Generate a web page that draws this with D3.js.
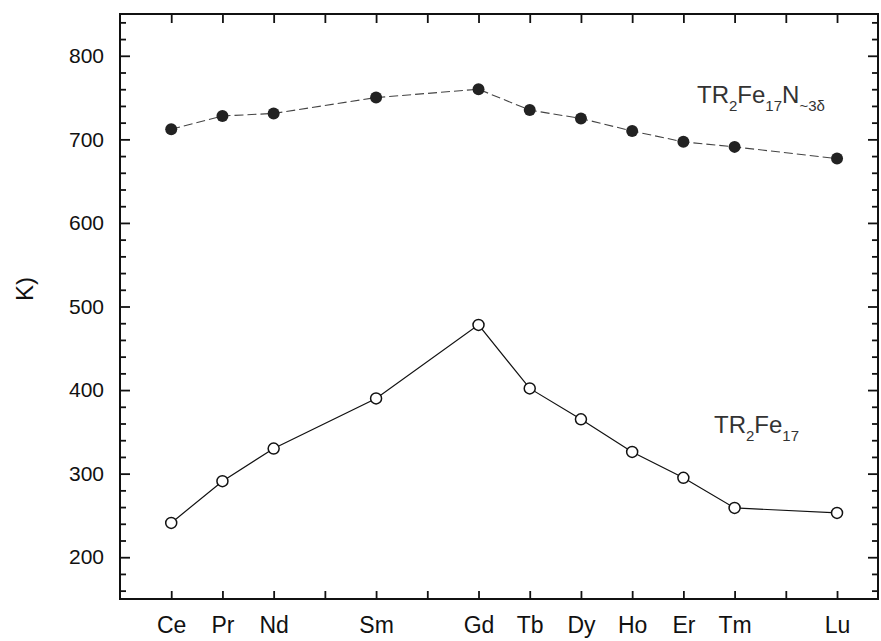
<!DOCTYPE html>
<html>
<head>
<meta charset="utf-8">
<script src="https://cdn.jsdelivr.net/npm/d3@7"></script>
<style>
  body { margin: 0; background: #fff; }
  svg { display: block; font-family: "Liberation Sans", Arial, sans-serif; }
  .axis path { display: none; }
  .axis line { stroke: #111; stroke-width: 1.8; }
</style>
</head>
<body>
<svg class="chart" width="881" height="641"></svg>
<script>
// data
var elements = ["Ce", "Pr", "Nd", "Sm", "Gd", "Tb", "Dy", "Ho", "Er", "Tm", "Lu"];
var atomicNo = [58, 59, 60, 62, 64, 65, 66, 67, 68, 69, 71];
var nitride = [712, 728, 731, 750, 760, 735, 725, 710, 697, 691, 677];   // TR2Fe17N~3
var pure = [241, 291, 330, 390, 478, 402, 365, 326, 295, 259, 253];      // TR2Fe17
var allTicks = [58, 59, 60, 61, 62, 63, 64, 65, 66, 67, 68, 69, 70, 71];
var yMajor = [200, 300, 400, 500, 600, 700, 800];

var svg = d3.select(".chart");
// plot box (careful: "top" is taken by window.top)
var pLeft = 120, pRight = 878, pTop = 14, pBottom = 599;

var x = d3.scaleLinear().domain([57, 71.8]).range([pLeft, pRight]);
var y = d3.scaleLinear().domain([150, 850]).range([pBottom, pTop]);

var labelOf = {};
elements.forEach(function(e, i) { labelOf[atomicNo[i]] = e; });

// minor ticks every 20
var yMinor = d3.range(160, 850, 20).filter(function(v) { return v % 100 != 0; });

svg.append("g").attr("class", "axis")
  .attr("transform", "translate(" + pLeft + ",0)")
  .call(d3.axisLeft(y).tickValues(yMinor).tickSize(-6).tickFormat(""));
svg.append("g").attr("class", "axis ylab")
  .attr("transform", "translate(" + pLeft + ",0)")
  .call(d3.axisLeft(y).tickValues(yMajor).tickSize(-10).tickPadding(16).tickFormat(d3.format("d")))
  .selectAll("text").style("font-size", "21px").attr("fill", "#111");

svg.append("g").attr("class", "axis")
  .attr("transform", "translate(" + pRight + ",0)")
  .call(d3.axisRight(y).tickValues(yMinor).tickSize(-6).tickFormat(""));
svg.append("g").attr("class", "axis")
  .attr("transform", "translate(" + pRight + ",0)")
  .call(d3.axisRight(y).tickValues(yMajor).tickSize(-10).tickFormat(""));

svg.append("g").attr("class", "axis")
  .attr("transform", "translate(0," + pBottom + ")")
  .call(d3.axisBottom(x).tickValues(allTicks).tickSize(-8).tickPadding(18)
    .tickFormat(function(d) { return labelOf[d] || ""; }))
  .selectAll("text").style("font-size", "23px").attr("fill", "#111");

svg.append("g").attr("class", "axis")
  .attr("transform", "translate(0," + pTop + ")")
  .call(d3.axisTop(x).tickValues(allTicks).tickSize(-9).tickFormat(""));

// frame
svg.append("rect")
  .attr("x", pLeft).attr("y", pTop)
  .attr("width", pRight - pLeft).attr("height", pBottom - pTop)
  .attr("fill", "none").attr("stroke", "#111").attr("stroke-width", 2);

// y label (cut off in the original)
svg.append("text")
  .attr("transform", "translate(33,289) rotate(-90)")
  .attr("text-anchor", "middle")
  .style("font-size", "24px").attr("fill", "#111")
  .text("K)");

var line = d3.line()
  .x(function(d) { return x(d[0]); })
  .y(function(d) { return y(d[1]); });

var nitrideData = atomicNo.map(function(n, i) { return [n, nitride[i]]; });
var pureData = atomicNo.map(function(n, i) { return [n, pure[i]]; });

svg.append("path").datum(nitrideData)
  .attr("d", line).attr("fill", "none")
  .attr("stroke", "#444").attr("stroke-width", 1.1)
  .attr("stroke-dasharray", "9,4");

svg.append("path").datum(pureData)
  .attr("d", line).attr("fill", "none")
  .attr("stroke", "#111").attr("stroke-width", 1.2);

svg.append("g").selectAll("circle")
  .data(nitrideData).enter().append("circle")
  .attr("cx", function(d) { return x(d[0]); })
  .attr("cy", function(d) { return y(d[1]); })
  .attr("r", 6).attr("fill", "#222");

svg.append("g").selectAll("circle")
  .data(pureData).enter().append("circle")
  .attr("cx", function(d) { return x(d[0]); })
  .attr("cy", function(d) { return y(d[1]); })
  .attr("r", 5.5).attr("fill", "#fff")
  .attr("stroke", "#111").attr("stroke-width", 1.5);

// series labels, subscripts as tspans
function formula(xp, yp, parts) {
  var t = svg.append("text").attr("x", xp).attr("y", yp)
    .style("font-size", "24px").attr("fill", "#333");
  var down = false;
  parts.forEach(function(p) {
    var s = t.append("tspan").text(p);
    var sub = /^[0-9~]/.test(p);
    if (sub) s.style("font-size", "15px");
    if (sub && !down) s.attr("dy", 8);
    if (!sub && down) s.attr("dy", -8);
    down = sub;
  });
}
formula(697, 103, ["TR", "2", "Fe", "17", "N", "~3δ"]);
formula(714, 433, ["TR", "2", "Fe", "17"]);
</script>
</body>
</html>
